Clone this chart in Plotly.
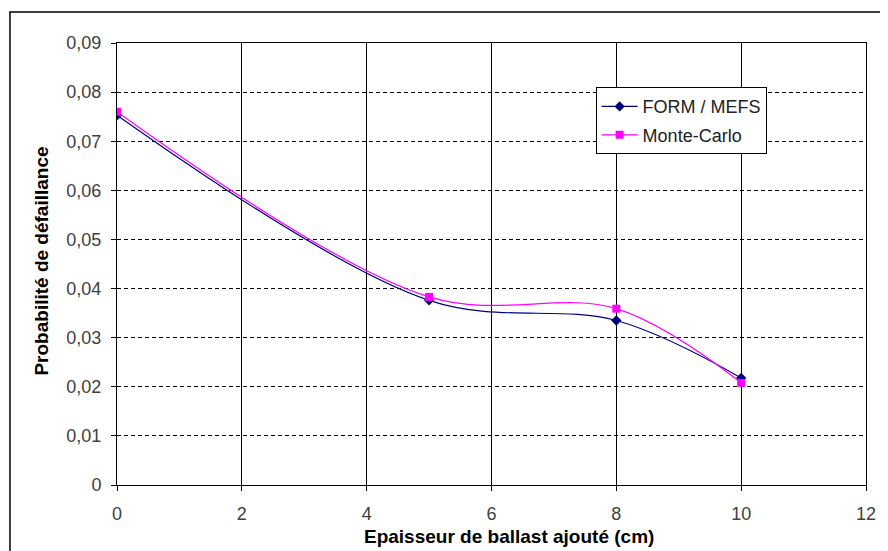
import plotly.graph_objects as go

x_vals = [0, 5, 8, 10]
form_mefs = [0.0753, 0.0376, 0.0335, 0.0218]
monte_carlo = [0.0760, 0.0383, 0.0359, 0.0208]

x_ticks = [0, 2, 4, 6, 8, 10, 12]
y_ticks = [0, 0.01, 0.02, 0.03, 0.04, 0.05, 0.06, 0.07, 0.08, 0.09]
y_tick_labels = ["0", "0,01", "0,02", "0,03", "0,04", "0,05", "0,06", "0,07", "0,08", "0,09"]

x_title = "Epaisseur de ballast ajouté (cm)"
y_title = "Probabilité de défaillance"

font_family = "Liberation Sans, Arial, sans-serif"

fig = go.Figure()
fig.add_trace(go.Scatter(
    x=x_vals, y=form_mefs, name="FORM / MEFS", mode="lines+markers",
    legendgroup="a",
    line=dict(color="#000080", width=1.2, shape="spline", smoothing=1),
    marker=dict(symbol="diamond", size=8, color="#000080"),
))
fig.add_trace(go.Scatter(
    x=x_vals, y=monte_carlo, name="Monte-Carlo", mode="lines+markers",
    legendgroup="b",
    line=dict(color="#FF00FF", width=1.2, shape="spline", smoothing=1),
    marker=dict(symbol="square", size=8, color="#FF00FF"),
))

# page has an 8px body margin, so figure is 880x543 offset by (8, 8)
fig.update_layout(
    width=880, height=543,
    margin=dict(l=109, r=15, t=35, b=66),
    paper_bgcolor="white", plot_bgcolor="white",
    separators=", ",
    font=dict(family=font_family, size=18, color="#404040"),
    showlegend=True,
    legend=dict(
        x=0.639, y=0.9, xanchor="left", yanchor="top",
        bgcolor="white", bordercolor="black", borderwidth=1,
        font=dict(family=font_family, size=18, color="#222222"),
        tracegroupgap=2, itemwidth=36,
    ),
    xaxis=dict(
        range=[0, 12], tickvals=x_ticks, ticktext=[str(v) for v in x_ticks],
        showgrid=True, gridcolor="black", gridwidth=1,
        showline=True, linecolor="black", linewidth=1, mirror=True,
        ticks="outside", ticklen=5, tickcolor="black",
        ticklabelstandoff=7,
        zeroline=False,
    ),
    yaxis=dict(
        range=[0, 0.09], tickvals=y_ticks, ticktext=y_tick_labels,
        showgrid=True, gridcolor="black", gridwidth=1, griddash="4px,3px",
        showline=True, linecolor="black", linewidth=1, mirror=True,
        ticks="outside", ticklen=5, tickcolor="black",
        ticklabelstandoff=6,
        zeroline=False,
    ),
    annotations=[
        dict(text="<b>" + x_title + "</b>", xref="paper", yref="paper",
             x=0.524, y=-0.116, xanchor="center", yanchor="middle", showarrow=False,
             font=dict(family=font_family, size=19, color="black")),
        dict(text="<b>" + y_title + "</b>", xref="paper", yref="paper",
             x=-0.1012, y=0.506, xanchor="center", yanchor="middle", showarrow=False,
             textangle=-90,
             font=dict(family=font_family, size=19, color="black")),
    ],
)

fig.add_shape(type="rect", xref="paper", yref="paper",
              x0=-0.1429, x1=1.05, y0=-0.3, y1=1.0701,
              line=dict(color="black", width=1.5), fillcolor="rgba(0,0,0,0)", layer="above")

fig.write_html("out.html")
